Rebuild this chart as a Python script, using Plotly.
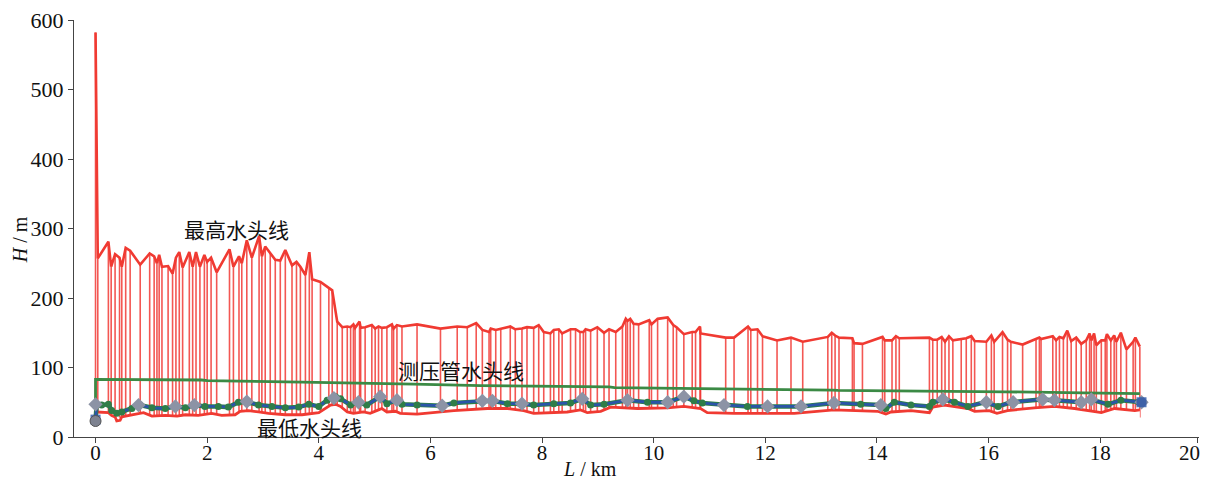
import plotly.graph_objects as go

# ---- data ----
node_x = [0.00,0.04,0.23,0.28,0.35,0.43,0.47,0.54,0.62,0.80,
          0.97,1.05,1.10,1.14,1.19,1.30,1.38,1.44,1.50,1.56,
          1.68,1.74,1.80,1.87,1.95,2.00,2.07,2.17,2.40,2.47,
          2.57,2.62,2.71,2.80,2.93,2.98,3.04,3.13,3.22,3.31,
          3.40,3.52,3.60,3.67,3.76,3.83,3.88,4.03,4.18,4.24,
          4.33,4.42,4.51,4.57,4.62,4.65,4.73,4.75,4.83,4.95,
          5.01,5.07,5.13,5.22,5.31,5.34,5.40,5.49,5.76,6.18,
          6.48,6.66,6.82,6.93,7.05,7.08,7.17,7.26,7.43,7.52,
          7.64,7.73,7.85,7.94,8.03,8.15,8.21,8.30,8.36,8.51,
          8.60,8.68,8.74,8.78,8.87,8.99,9.11,9.20,9.32,9.44,
          9.50,9.53,9.58,9.64,9.73,9.92,9.96,10.07,10.25,10.35,
          10.41,10.54,10.69,10.75,10.83,10.84,11.29,11.44,11.69,11.74,
          11.86,11.95,12.21,12.46,12.67,13.12,13.19,13.25,13.32,13.56,
          13.59,13.74,14.10,14.14,14.27,14.34,14.40,14.94,15.00,15.08,
          15.16,15.22,15.29,15.36,15.51,15.60,15.69,15.75,15.96,16.05,
          16.10,16.25,16.34,16.40,16.61,16.85,16.91,16.94,17.15,17.21,
          17.27,17.34,17.41,17.48,17.57,17.66,17.75,17.81,17.84,17.89,
          17.93,18.02,18.09,18.12,18.19,18.25,18.29,18.37,18.47,18.59,
          18.63,18.71]
h_max = [582,257,281,245,263,258,245,272,268,248,
         264,260,250,262,245,246,235,258,266,244,
         266,245,266,245,262,252,258,237,270,245,
         260,250,283,258,289,260,274,265,255,254,
         269,247,252,245,233,266,227,223,214,211,
         166,158,159,158,162,157,166,157,158,161,
         156,159,157,158,162,156,161,159,162,156,
         159,158,164,154,151,156,154,156,159,155,
         156,158,157,161,151,149,154,155,149,155,
         155,151,151,155,153,158,150,155,151,159,
         170,167,170,163,162,168,162,170,172,161,
         158,148,151,151,159,149,143,143,159,154,
         155,145,139,143,137,144,150,146,143,142,
         135,134,144,139,139,145,142,143,140,140,
         144,137,145,139,141,142,145,138,137,146,
         137,151,140,137,133,141,143,141,145,139,
         144,142,153,138,143,134,139,149,139,149,
         132,139,139,148,139,146,137,150,126,137,
         143,130]

low_x = [0.02,0.23,0.29,0.35,0.38,0.44,0.47,0.77,0.86,1.01,1.25,1.46,1.61,1.84,
         2.08,2.26,2.50,2.59,2.74,2.92,3.10,3.40,3.70,4.00,4.21,4.30,4.39,4.51,
         4.62,4.80,4.92,5.07,5.13,5.22,5.37,5.46,5.76,6.42,7.02,7.38,7.67,7.85,
         8.21,8.45,8.69,8.81,9.05,9.23,9.71,10.25,10.54,10.84,10.96,11.44,12.52,
         13.23,14.01,14.16,14.25,14.61,14.94,15.00,15.21,15.63,15.75,16.01,16.15,
         16.34,16.82,17.18,17.54,17.90,18.02,18.26,18.62,18.71]
h_min = [36,35,31,29,23,24,29,33,35,30,31,30,32,31,
         34,31,32,37,38,36,34,32,32,35,46,47,44,36,
         34,36,34,39,41,36,37,34,33,38,41,41,38,34,
         35,36,39,35,37,43,41,42,44,41,35,34,34,
         39,37,33,36,38,35,43,46,41,37,38,34,
         38,42,44,41,37,35,41,38,39]

piezo_x = [0.00,0.00,1.90,2.00,3.70,4.70,5.70,6.90,8.30,9.20,9.30,11.70,11.80,
           13.20,13.30,14.60,16.20,16.30,17.70,18.71]
piezo_h = [50,83,82,81,79,77,76,74,73,72,71,69.5,68.5,
           67.5,67,66.5,66,65,63.5,62.5]

head_x = [0.00,0.02,0.11,0.23,0.29,0.38,0.47,0.65,0.80,1.01,1.25,1.43,1.61,1.78,
          1.96,2.20,2.38,2.56,2.74,2.92,3.16,3.40,3.64,3.82,4.00,4.15,4.30,4.39,
          4.57,4.71,4.86,5.10,5.22,5.40,5.49,5.76,6.21,6.42,6.90,7.11,7.38,7.61,
          7.85,8.21,8.51,8.72,8.87,9.11,9.53,9.89,10.25,10.54,10.72,10.87,11.26,
          11.68,12.04,12.64,13.23,13.71,14.07,14.16,14.31,14.61,14.94,15.00,15.21,
          15.39,15.63,15.93,16.17,16.40,16.94,17.18,17.66,17.84,18.14,18.37,18.69,18.74]
head_h = [25,46,46,47,38,34,36,41,46,42,41,44,42,46,
          44,44,43,50,50,46,44,42,43,47,44,53,58,55,
          46,50,46,58,48,53,47,46,45,49,52,52,48,48,
          46,48,49,55,46,47,53,50,50,58,52,49,46,
          44,44,44,49,47,46,41,50,46,44,50,54,
          50,44,50,44,50,54,53,50,54,47,53,50,50]

valve_x = [0.00,0.77,1.43,1.77,2.71,4.27,4.71,5.10,5.40,6.21,6.93,7.11,7.64,8.72,
           9.53,10.25,10.54,11.26,12.04,12.64,13.23,14.07,15.18,15.96,16.44,16.97,
           17.18,17.66,17.84,18.74]
valve_h = [47,46,44,46,51,56,50,58,53,45,52,52,48,55,
           53,50,58,46,44,44,49,46,54,50,50,54,
           53,50,54,50]

x_tick_vals = [0, 2, 4, 6, 8, 10, 12, 14, 16, 18, 19.74]
x_tick_text = ["0", "2", "4", "6", "8", "10", "12", "14", "16", "18",
               "20\u00a0\u00a0\u00a0"]
y_tick_vals = [0, 100, 200, 300, 400, 500, 600]

RED = "#f03a32"
BLUE = "#2a55a8"
GREEN = "#3b8a45"
GREEN_M = "#2f7d48"
GREY = "#8c93a5"

# vertical envelope lines at every node
vx, vy = [], []
for x, h in zip(node_x, h_max):
    vx += [x, x, None]
    vy += [28, h, None]

fig = go.Figure()
fig.add_trace(go.Scatter(x=vx, y=vy, mode="lines",
                         line=dict(color="rgba(240,45,40,0.8)", width=1.6),
                         hoverinfo="skip", showlegend=False))
# white mask below the minimum-head line
fig.add_trace(go.Scatter(x=low_x, y=h_min, mode="lines", fill="tozeroy",
                         fillcolor="white", line=dict(width=0),
                         hoverinfo="skip", showlegend=False))
fig.add_trace(go.Scatter(x=piezo_x, y=piezo_h, mode="lines",
                         line=dict(color=GREEN, width=2.8), showlegend=False))
fig.add_trace(go.Scatter(x=low_x, y=h_min, mode="lines",
                         line=dict(color=RED, width=2.8), showlegend=False))
fig.add_trace(go.Scatter(x=node_x, y=h_max, mode="lines",
                         line=dict(color=RED, width=2.6), showlegend=False))
fig.add_trace(go.Scatter(x=head_x, y=head_h, mode="lines",
                         line=dict(color=GREEN_M, width=4.5), showlegend=False))
fig.add_trace(go.Scatter(x=head_x, y=head_h, mode="lines",
                         line=dict(color=BLUE, width=2.8), showlegend=False))
fig.add_trace(go.Scatter(x=head_x, y=head_h, mode="markers",
                         marker=dict(color=GREEN_M, size=7, symbol="circle"),
                         showlegend=False))
fig.add_trace(go.Scatter(x=valve_x, y=valve_h, mode="markers",
                         marker=dict(color=GREY, size=11, symbol="diamond"),
                         showlegend=False))
fig.add_trace(go.Scatter(x=[head_x[0], head_x[-1]], y=[head_h[0], head_h[-1]], mode="markers",
                         marker=dict(color=BLUE, size=10, symbol="square", opacity=0.8),
                         showlegend=False))
fig.add_trace(go.Scatter(x=[head_x[0]], y=[23], mode="markers",
                         marker=dict(color="#7d8290", size=11, symbol="circle",
                                     line=dict(color="#555", width=1)),
                         showlegend=False))

TXT = dict(family="Noto Sans CJK SC", size=21, color="#111")
fig.add_annotation(x=2.53, y=300, text="最高水头线", showarrow=False, font=TXT)
fig.add_annotation(x=6.55, y=96, text="测压管水头线", showarrow=False, font=TXT)
fig.add_annotation(x=3.84, y=15, text="最低水头线", showarrow=False, font=TXT)

AX = dict(family="Liberation Serif", size=20, color="#111")
fig.add_annotation(xref="paper", yref="paper", x=-0.048, y=0.472,
                   xanchor="center", yanchor="middle",
                   text="<i>H</i> / m", textangle=-90, showarrow=False, font=AX)
fig.add_annotation(xref="paper", yref="paper", x=0.4587, y=-0.077,
                   xanchor="center", yanchor="middle",
                   text="<i>L</i> / km", showarrow=False, font=AX)

fig.update_xaxes(range=[-0.386, 19.77], tickvals=x_tick_vals, ticktext=x_tick_text,
                 showline=True, linecolor="#444", linewidth=1, ticks="outside",
                 ticklen=5, tickcolor="#444", showgrid=False, zeroline=False,
                 ticklabelstandoff=-8, ticklabeloverflow="allow", automargin=False,
                 tickfont=dict(family="Liberation Serif", size=21, color="#111"))
fig.update_yaxes(range=[0, 600], tickvals=y_tick_vals,
                 showline=True, linecolor="#444", linewidth=1, ticks="outside",
                 ticklen=5, tickcolor="#444", showgrid=False, zeroline=False,
                 ticklabeloverflow="allow", automargin=False,
                 tickfont=dict(family="Liberation Serif", size=22, color="#111"))
# page body has an 8px default margin, so the figure is sized/offset to fit the window
fig.update_layout(width=1201, height=474, margin=dict(l=66, r=10, t=12, b=45),
                  plot_bgcolor="white", paper_bgcolor="white", showlegend=False)

fig.write_html("out.html")
